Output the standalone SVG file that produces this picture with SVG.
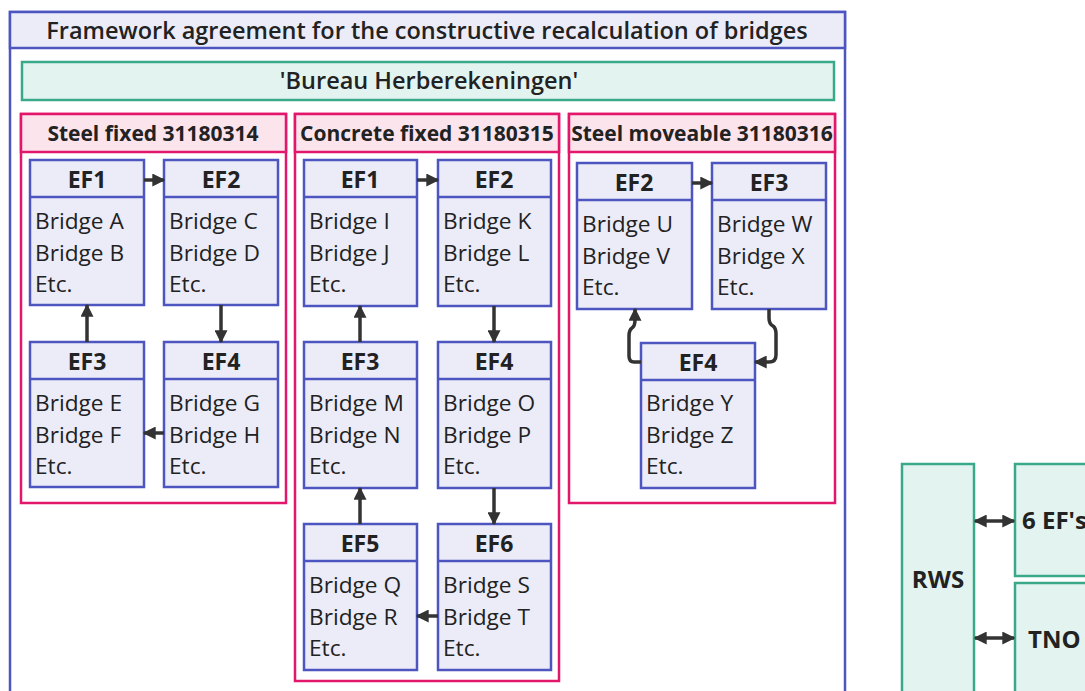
<svg xmlns="http://www.w3.org/2000/svg" width="1085" height="691" viewBox="0 0 1085 691">
  <defs>
    <marker id="arrow" viewBox="0 0 10 10" refX="9" refY="5" markerWidth="13" markerHeight="13" markerUnits="userSpaceOnUse" orient="auto-start-reverse">
      <path d="M0,0 L10,5 L0,10 z" fill="#333333"/>
    </marker>
  </defs>
  <style>
    text { font-family: "Open Sans", "Noto Sans", "DejaVu Sans", sans-serif; fill: #222222; }
    .frame { fill: #ffffff; stroke: #4c55c0; stroke-width: 2.5; }
    .frame-head { fill: #ececf8; stroke: #4c55c0; stroke-width: 2.5; }
    .title { font-size: 23.5px; font-weight: 600; text-anchor: middle; }
    .bureau { fill: #e3f4f0; stroke: #3aa98a; stroke-width: 2.5; }
    .cluster { fill: #ffffff; stroke: #e2176c; stroke-width: 2.5; }
    .cluster-head { fill: #fce4ec; stroke: #e2176c; stroke-width: 2.5; }
    .clabel { font-size: 21px; font-weight: 700; text-anchor: middle; }
    .node rect { fill: #ececf8; stroke: #4c55c0; stroke-width: 2.5; }
    .node line { stroke: #4c55c0; stroke-width: 2.5; }
    .nhead { font-size: 23px; font-weight: 700; text-anchor: middle; }
    .nbody { font-size: 22.7px; font-weight: 400; }
    .party { fill: #e3f4f0; stroke: #3aa98a; stroke-width: 2.5; }
    .plabel { font-size: 24px; font-weight: 700; }
    .conn { fill: none; stroke: #333333; stroke-width: 3.5; marker-end: url(#arrow); }
    .dconn { fill: none; stroke: #333333; stroke-width: 3.5; marker-start: url(#arrow); marker-end: url(#arrow); }
  </style>

  <rect width="1085" height="691" fill="#ffffff"/>

  <!-- Framework agreement frame -->
  <g id="framework">
    <rect class="frame" x="10" y="12" width="835" height="690"/>
    <rect class="frame-head" x="10" y="12" width="835" height="36"/>
    <text class="title" x="427" y="39">Framework agreement for the constructive recalculation of bridges</text>
  </g>

  <g id="bureau">
    <rect class="bureau" x="22" y="62" width="812" height="38"/>
    <text class="title" x="429" y="89">'Bureau Herberekeningen'</text>
  </g>

  <!-- Clusters -->
  <g id="steel-fixed">
    <rect class="cluster" x="21" y="114" width="265" height="389"/>
    <rect class="cluster-head" x="21" y="114" width="265" height="38"/>
    <text class="clabel" x="153" y="141">Steel fixed 31180314</text>
  </g>
  <g id="concrete-fixed">
    <rect class="cluster" x="295" y="114" width="264" height="567"/>
    <rect class="cluster-head" x="295" y="114" width="264" height="38"/>
    <text class="clabel" x="427" y="141">Concrete fixed 31180315</text>
  </g>
  <g id="steel-moveable">
    <rect class="cluster" x="569" y="114" width="266" height="389"/>
    <rect class="cluster-head" x="569" y="114" width="266" height="38"/>
    <text class="clabel" x="702" y="141">Steel moveable 31180316</text>
  </g>

  <!-- Steel fixed nodes -->
  <g id="sf-ef1" class="node">
    <rect x="30" y="160" width="114" height="145"/>
    <line x1="30" y1="197" x2="144" y2="197"/>
    <text class="nhead" x="87" y="188">EF1</text>
    <text class="nbody" x="35" y="229">Bridge A</text>
    <text class="nbody" x="35" y="261">Bridge B</text>
    <text class="nbody" x="35" y="292">Etc.</text>
  </g>
  <g id="sf-ef2" class="node">
    <rect x="164" y="160" width="114" height="145"/>
    <line x1="164" y1="197" x2="278" y2="197"/>
    <text class="nhead" x="221" y="188">EF2</text>
    <text class="nbody" x="169" y="229">Bridge C</text>
    <text class="nbody" x="169" y="261">Bridge D</text>
    <text class="nbody" x="169" y="292">Etc.</text>
  </g>
  <g id="sf-ef3" class="node">
    <rect x="30" y="342" width="114" height="145"/>
    <line x1="30" y1="379" x2="144" y2="379"/>
    <text class="nhead" x="87" y="370">EF3</text>
    <text class="nbody" x="35" y="411">Bridge E</text>
    <text class="nbody" x="35" y="443">Bridge F</text>
    <text class="nbody" x="35" y="474">Etc.</text>
  </g>
  <g id="sf-ef4" class="node">
    <rect x="164" y="342" width="114" height="145"/>
    <line x1="164" y1="379" x2="278" y2="379"/>
    <text class="nhead" x="221" y="370">EF4</text>
    <text class="nbody" x="169" y="411">Bridge G</text>
    <text class="nbody" x="169" y="443">Bridge H</text>
    <text class="nbody" x="169" y="474">Etc.</text>
  </g>

  <!-- Concrete fixed nodes -->
  <g id="cf-ef1" class="node">
    <rect x="304" y="160" width="113" height="146"/>
    <line x1="304" y1="197" x2="417" y2="197"/>
    <text class="nhead" x="360" y="188">EF1</text>
    <text class="nbody" x="309" y="229">Bridge I</text>
    <text class="nbody" x="309" y="261">Bridge J</text>
    <text class="nbody" x="309" y="292">Etc.</text>
  </g>
  <g id="cf-ef2" class="node">
    <rect x="438" y="160" width="113" height="146"/>
    <line x1="438" y1="197" x2="551" y2="197"/>
    <text class="nhead" x="494" y="188">EF2</text>
    <text class="nbody" x="443" y="229">Bridge K</text>
    <text class="nbody" x="443" y="261">Bridge L</text>
    <text class="nbody" x="443" y="292">Etc.</text>
  </g>
  <g id="cf-ef3" class="node">
    <rect x="304" y="342" width="113" height="146"/>
    <line x1="304" y1="379" x2="417" y2="379"/>
    <text class="nhead" x="360" y="370">EF3</text>
    <text class="nbody" x="309" y="411">Bridge M</text>
    <text class="nbody" x="309" y="443">Bridge N</text>
    <text class="nbody" x="309" y="474">Etc.</text>
  </g>
  <g id="cf-ef4" class="node">
    <rect x="438" y="342" width="113" height="146"/>
    <line x1="438" y1="379" x2="551" y2="379"/>
    <text class="nhead" x="494" y="370">EF4</text>
    <text class="nbody" x="443" y="411">Bridge O</text>
    <text class="nbody" x="443" y="443">Bridge P</text>
    <text class="nbody" x="443" y="474">Etc.</text>
  </g>
  <g id="cf-ef5" class="node">
    <rect x="304" y="524" width="113" height="146"/>
    <line x1="304" y1="561" x2="417" y2="561"/>
    <text class="nhead" x="360" y="552">EF5</text>
    <text class="nbody" x="309" y="593">Bridge Q</text>
    <text class="nbody" x="309" y="625">Bridge R</text>
    <text class="nbody" x="309" y="656">Etc.</text>
  </g>
  <g id="cf-ef6" class="node">
    <rect x="438" y="524" width="113" height="146"/>
    <line x1="438" y1="561" x2="551" y2="561"/>
    <text class="nhead" x="494" y="552">EF6</text>
    <text class="nbody" x="443" y="593">Bridge S</text>
    <text class="nbody" x="443" y="625">Bridge T</text>
    <text class="nbody" x="443" y="656">Etc.</text>
  </g>

  <!-- Steel moveable nodes -->
  <g id="sm-ef2" class="node">
    <rect x="577" y="163" width="115" height="146"/>
    <line x1="577" y1="200" x2="692" y2="200"/>
    <text class="nhead" x="634" y="191">EF2</text>
    <text class="nbody" x="582" y="232">Bridge U</text>
    <text class="nbody" x="582" y="264">Bridge V</text>
    <text class="nbody" x="582" y="295">Etc.</text>
  </g>
  <g id="sm-ef3" class="node">
    <rect x="712" y="163" width="114" height="146"/>
    <line x1="712" y1="200" x2="826" y2="200"/>
    <text class="nhead" x="769" y="191">EF3</text>
    <text class="nbody" x="717" y="232">Bridge W</text>
    <text class="nbody" x="717" y="264">Bridge X</text>
    <text class="nbody" x="717" y="295">Etc.</text>
  </g>
  <g id="sm-ef4" class="node">
    <rect x="641" y="343" width="114" height="145"/>
    <line x1="641" y1="380" x2="755" y2="380"/>
    <text class="nhead" x="698" y="371">EF4</text>
    <text class="nbody" x="646" y="411">Bridge Y</text>
    <text class="nbody" x="646" y="443">Bridge Z</text>
    <text class="nbody" x="646" y="474">Etc.</text>
  </g>

  <!-- Parties -->
  <g id="rws">
    <rect class="party" x="902" y="464" width="72" height="240"/>
    <text class="plabel" x="938" y="588" text-anchor="middle">RWS</text>
  </g>
  <g id="efs">
    <rect class="party" x="1015" y="464" width="90" height="112"/>
    <text class="plabel" x="1022" y="529">6 EF's</text>
  </g>
  <g id="tno">
    <rect class="party" x="1015" y="583" width="90" height="120"/>
    <text class="plabel" x="1028" y="648">TNO</text>
  </g>

  <!-- Connectors -->
  <g id="connectors">
    <!-- steel fixed cycle -->
    <path class="conn" d="M144,180 L164,180"/>
    <path class="conn" d="M221,305 L221,342"/>
    <path class="conn" d="M164,433 L144,433"/>
    <path class="conn" d="M87,342 L87,305"/>
    <!-- concrete fixed cycle -->
    <path class="conn" d="M417,180 L438,180"/>
    <path class="conn" d="M494,306 L494,342"/>
    <path class="conn" d="M494,488 L494,524"/>
    <path class="conn" d="M438,616 L417,616"/>
    <path class="conn" d="M360,524 L360,488"/>
    <path class="conn" d="M360,342 L360,306"/>
    <!-- steel moveable cycle -->
    <path class="conn" d="M692,183 L712,183"/>
    <path class="conn" d="M769,309 L769,318 Q769,324 773,326 Q776,328 776,334 L776,355 Q776,362 769,362 L755,362"/>
    <path class="conn" d="M641,362 L634,362 Q629,362 629,356 L629,336 Q629,330 632,328 Q635,326 635,320 L635,309"/>
    <!-- parties -->
    <path class="dconn" d="M975,521 L1014,521"/>
    <path class="dconn" d="M975,638 L1014,638"/>
  </g>
</svg>
